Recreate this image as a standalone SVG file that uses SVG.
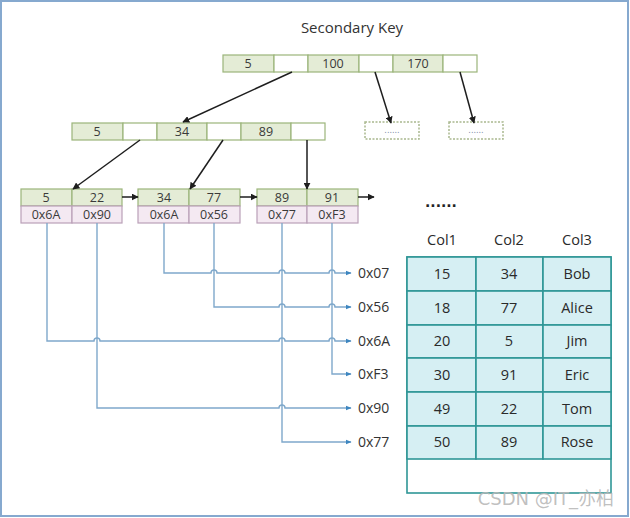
<svg xmlns="http://www.w3.org/2000/svg" width="630" height="518" viewBox="0 0 630 518">
<defs>
<style>
.key{fill:#e4ecd6;stroke:#9bb57a;stroke-width:1.2}
.ptr{fill:#ffffff;stroke:#9bb57a;stroke-width:1.2}
.addr{fill:#f4e9f2;stroke:#b9a0b8;stroke-width:1.2}
.dash{fill:#ffffff;stroke:#a9b88e;stroke-width:1.5;stroke-dasharray:2 1.5}
.t{font-family:"Open Sans","DejaVu Sans",sans-serif;font-size:12.5px;fill:#3a3a3a;text-anchor:middle}
.lbl{font-family:"Open Sans","DejaVu Sans",sans-serif;font-size:14px;fill:#333}
.tt{font-family:"Open Sans","DejaVu Sans",sans-serif;font-size:14.5px;fill:#2a2a2a;text-anchor:middle}
.cell{fill:#d6eff3;stroke:#2f9696;stroke-width:1.6}
.blk{fill:none;stroke:#1e1e1e;stroke-width:1.5;marker-end:url(#ah)}
.blu{fill:none;stroke:#7fa8cb;stroke-width:1.4;marker-end:url(#bh)}
</style>
<marker id="ah" viewBox="0 0 10 10" refX="9" refY="5" markerWidth="7" markerHeight="7" markerUnits="userSpaceOnUse" orient="auto"><path d="M0,0 L10,5 L0,10 z" fill="#1e1e1e"/></marker>
<marker id="bh" viewBox="0 0 10 10" refX="9" refY="5" markerWidth="6" markerHeight="6" markerUnits="userSpaceOnUse" orient="auto"><path d="M0,1 L10,5 L0,9 z" fill="#3d86c0"/></marker>
</defs>
<rect x="0" y="0" width="630" height="518" fill="#ffffff"/>
<rect x="1" y="1" width="627" height="515" fill="none" stroke="#86a9cf" stroke-width="2"/>

<text x="352" y="33" font-family="'Open Sans','DejaVu Sans',sans-serif" font-size="15" fill="#333" text-anchor="middle">Secondary Key</text>

<g id="root">
<rect class="key" x="223" y="55" width="51" height="17"/>
<rect class="ptr" x="274" y="55" width="34" height="17"/>
<rect class="key" x="308" y="55" width="51" height="17"/>
<rect class="ptr" x="359" y="55" width="34" height="17"/>
<rect class="key" x="393" y="55" width="50" height="17"/>
<rect class="ptr" x="443" y="55" width="34" height="17"/>
<text class="t" x="248" y="68">5</text>
<text class="t" x="333" y="68">100</text>
<text class="t" x="418" y="68">170</text>
</g>

<g id="inner">
<rect class="key" x="72" y="123" width="51" height="17"/>
<rect class="ptr" x="123" y="123" width="34" height="17"/>
<rect class="key" x="157" y="123" width="50" height="17"/>
<rect class="ptr" x="207" y="123" width="34" height="17"/>
<rect class="key" x="241" y="123" width="50" height="17"/>
<rect class="ptr" x="291" y="123" width="34" height="17"/>
<text class="t" x="97" y="136">5</text>
<text class="t" x="182" y="136">34</text>
<text class="t" x="266" y="136">89</text>
</g>

<g id="more1">
<rect class="dash" x="365" y="122" width="54" height="17"/>
<text x="392" y="133" font-family="'DejaVu Sans',sans-serif" font-size="8" fill="#7a8aa8" text-anchor="middle">......</text>
</g>
<g id="more2">
<rect class="dash" x="449" y="122" width="54" height="17"/>
<text x="476" y="133" font-family="'DejaVu Sans',sans-serif" font-size="8" fill="#7a8aa8" text-anchor="middle">......</text>
</g>

<g id="leaf1">
<rect class="key" x="21" y="189" width="51" height="17"/>
<rect class="key" x="72" y="189" width="50" height="17"/>
<rect class="addr" x="21" y="206" width="51" height="17"/>
<rect class="addr" x="72" y="206" width="50" height="17"/>
<text class="t" x="46" y="202">5</text>
<text class="t" x="97" y="202">22</text>
<text class="t" x="46" y="219">0x6A</text>
<text class="t" x="97" y="219">0x90</text>
</g>
<g id="leaf2">
<rect class="key" x="138" y="189" width="51" height="17"/>
<rect class="key" x="189" y="189" width="51" height="17"/>
<rect class="addr" x="138" y="206" width="51" height="17"/>
<rect class="addr" x="189" y="206" width="51" height="17"/>
<text class="t" x="164" y="202">34</text>
<text class="t" x="214" y="202">77</text>
<text class="t" x="164" y="219">0x6A</text>
<text class="t" x="214" y="219">0x56</text>
</g>
<g id="leaf3">
<rect class="key" x="257" y="189" width="50" height="17"/>
<rect class="key" x="307" y="189" width="51" height="17"/>
<rect class="addr" x="257" y="206" width="50" height="17"/>
<rect class="addr" x="307" y="206" width="51" height="17"/>
<text class="t" x="282" y="202">89</text>
<text class="t" x="332" y="202">91</text>
<text class="t" x="282" y="219">0x77</text>
<text class="t" x="332" y="219">0xF3</text>
</g>

<g id="connectors">
<path class="blk" d="M292,72 L183,122"/>
<path class="blk" d="M375,72 L391,123"/>
<path class="blk" d="M460,72 L474,123"/>
<path class="blk" d="M140,140 L73,189"/>
<path class="blk" d="M223,140 L190,189"/>
<path class="blk" d="M307,140 L307,189"/>
<path class="blk" d="M122,197 L138,197"/>
<path class="blk" d="M240,197 L257,197"/>
<path class="blk" d="M358,197 L374,197"/>

<path class="blu" d="M164,223 V273 H211 a3,3 0 0 1 6,0 H279 a3,3 0 0 1 6,0 H329 a3,3 0 0 1 6,0 H351"/>
<path class="blu" d="M214,223 V307 H279 a3,3 0 0 1 6,0 H329 a3,3 0 0 1 6,0 H351"/>
<path class="blu" d="M47,223 V341 H94 a3,3 0 0 1 6,0 H279 a3,3 0 0 1 6,0 H329 a3,3 0 0 1 6,0 H351"/>
<path class="blu" d="M332,223 V374 H351"/>
<path class="blu" d="M97,223 V408 H279 a3,3 0 0 1 6,0 H351"/>
<path class="blu" d="M282,223 V442 H351"/>
</g>

<g id="addrs">
<text class="lbl" x="358" y="278">0x07</text>
<text class="lbl" x="358" y="312">0x56</text>
<text class="lbl" x="358" y="346">0x6A</text>
<text class="lbl" x="358" y="379">0xF3</text>
<text class="lbl" x="358" y="413">0x90</text>
<text class="lbl" x="358" y="447">0x77</text>
</g>

<text x="441" y="207" font-family="'DejaVu Sans',sans-serif" font-size="14" font-weight="bold" fill="#222" text-anchor="middle">......</text>

<g id="table">
<text class="tt" x="442" y="245">Col1</text>
<text class="tt" x="509" y="245">Col2</text>
<text class="tt" x="577" y="245">Col3</text>
<rect x="407" y="257" width="204" height="236" fill="#ffffff" stroke="#2f9696" stroke-width="1.6"/>
<g>
<rect class="cell" x="407" y="257" width="69" height="34"/><rect class="cell" x="476" y="257" width="67" height="34"/><rect class="cell" x="543" y="257" width="68" height="34"/>
<rect class="cell" x="407" y="291" width="69" height="34"/><rect class="cell" x="476" y="291" width="67" height="34"/><rect class="cell" x="543" y="291" width="68" height="34"/>
<rect class="cell" x="407" y="325" width="69" height="33"/><rect class="cell" x="476" y="325" width="67" height="33"/><rect class="cell" x="543" y="325" width="68" height="33"/>
<rect class="cell" x="407" y="358" width="69" height="34"/><rect class="cell" x="476" y="358" width="67" height="34"/><rect class="cell" x="543" y="358" width="68" height="34"/>
<rect class="cell" x="407" y="392" width="69" height="34"/><rect class="cell" x="476" y="392" width="67" height="34"/><rect class="cell" x="543" y="392" width="68" height="34"/>
<rect class="cell" x="407" y="426" width="69" height="33"/><rect class="cell" x="476" y="426" width="67" height="33"/><rect class="cell" x="543" y="426" width="68" height="33"/>
</g>
<text class="tt" x="442" y="279">15</text><text class="tt" x="509" y="279">34</text><text class="tt" x="577" y="279">Bob</text>
<text class="tt" x="442" y="313">18</text><text class="tt" x="509" y="313">77</text><text class="tt" x="577" y="313">Alice</text>
<text class="tt" x="442" y="346">20</text><text class="tt" x="509" y="346">5</text><text class="tt" x="577" y="346">Jim</text>
<text class="tt" x="442" y="380">30</text><text class="tt" x="509" y="380">91</text><text class="tt" x="577" y="380">Eric</text>
<text class="tt" x="442" y="414">49</text><text class="tt" x="509" y="414">22</text><text class="tt" x="577" y="414">Tom</text>
<text class="tt" x="442" y="447">50</text><text class="tt" x="509" y="447">89</text><text class="tt" x="577" y="447">Rose</text>
</g>

<text x="614" y="505" font-family="'DejaVu Sans','Noto Sans CJK SC',sans-serif" font-size="18" fill="#b8b8b8" fill-opacity="0.9" text-anchor="end">CSDN @IT_亦柏</text>
</svg>
